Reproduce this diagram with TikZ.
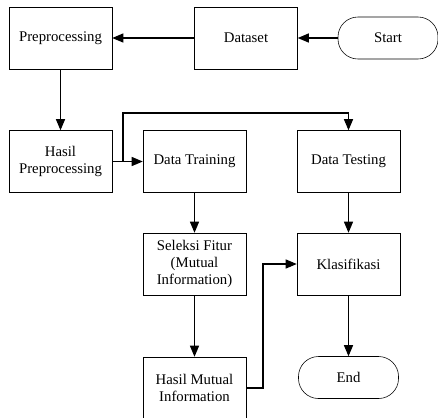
\documentclass[tikz,border=0pt]{standalone}
\usepackage{fontspec}
\setmainfont{Liberation Serif}
\usetikzlibrary{arrows,positioning}

\begin{document}
\begin{tikzpicture}[x=0.025cm,y=-0.025cm,>=triangle 45,
    proc/.style = {draw, rectangle, thin, minimum width=2.575cm, minimum height=1.55cm, align=center, inner sep=1pt, font=\fontsize{10.5}{12}\selectfont},
    term/.style = {draw, rectangle, thin, rounded corners=0.5cm, minimum width=2.5cm, minimum height=1.05cm, font=\fontsize{10.5}{12}\selectfont},
    flow/.style = {->, thick}]
      \clip (0,0) rectangle (438,417);
      \node[proc] at (60.5, 38) (pre){Preprocessing};
      \node[proc] at (246, 38) (data){Dataset};
      \node[term] at (388, 38) (start){Start};
      \node[proc] at (60.5, 161.5) (hasilpre){Hasil\\Preprocessing};
      \node[proc] at (194.5, 161.5) (train){Data Training};
      \node[proc] at (348.5, 161.5) (test){Data Testing};
      \node[proc] at (194.5, 264) (seleksi){Seleksi Fitur\\(Mutual\\Information)};
      \node[proc] at (348.5, 264) (klas){Klasifikasi};
      \node[proc] at (194.5, 388) (hasilmi){Hasil Mutual\\Information};
      \node[term] at (348.5, 377.5) (end){End};

      \coordinate (split) at (123, 161.5);

      \draw[flow] (start) -- (data);
      \draw[flow] (data) -- (pre);
      \draw[flow] (pre) -- (hasilpre);
      \draw[flow] (hasilpre) -- (train);
      \draw[flow] (split) |- (123, 113) -| (test);
      \draw[flow] (train) -- (seleksi);
      \draw[flow] (seleksi) -- (hasilmi);
      \draw[flow] (test) -- (klas);
      \draw[flow] (hasilmi.east) -- (263, 388) |- (klas.west);
      \draw[flow] (klas) -- (end);
    \end{tikzpicture}
\end{document}
